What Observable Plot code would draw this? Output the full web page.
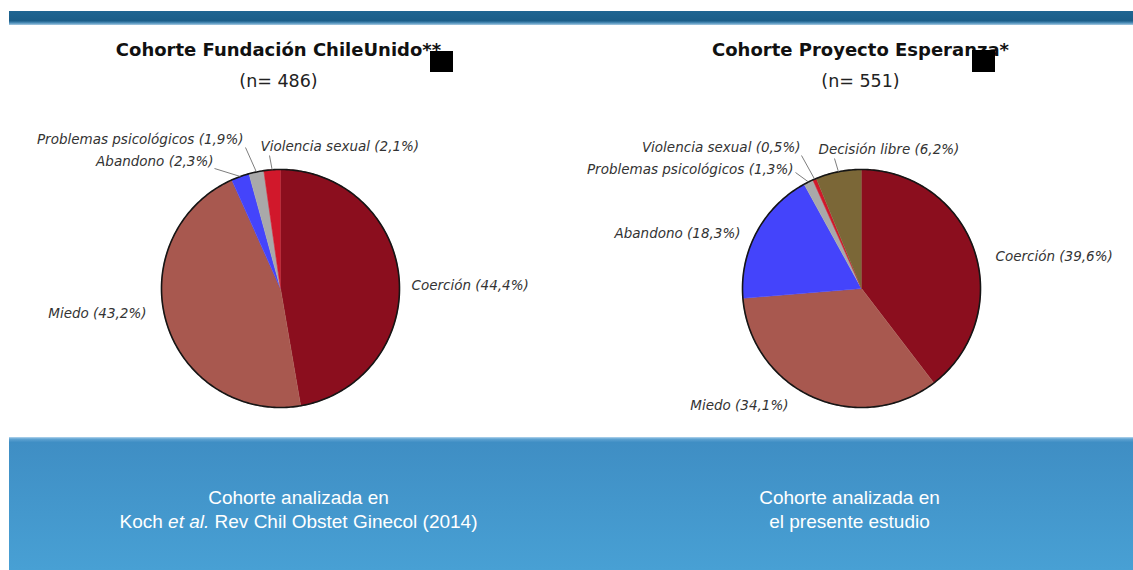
<!DOCTYPE html>
<html><head><meta charset="utf-8">
<script src="https://cdn.jsdelivr.net/npm/d3@7"></script>
<script src="https://cdn.jsdelivr.net/npm/@observablehq/plot@0.6"></script>
<style>html,body{margin:0;padding:0;background:#fff;}</style>
</head><body><div id="chart"></div>
<script>
// ---------- data ----------
const pieTitles = ["Cohorte Fundación ChileUnido**", "Cohorte Proyecto Esperanza*"];
const pieSizes = ["(n= 486)", "(n= 551)"];
const leftCategories = ["Coerción", "Miedo", "Abandono", "Problemas psicológicos", "Violencia sexual"];
const leftValues = [44.4, 43.2, 2.3, 1.9, 2.1];
const rightCategories = ["Coerción", "Miedo", "Abandono", "Problemas psicológicos", "Violencia sexual", "Decisión libre"];
const rightValues = [39.6, 34.1, 18.3, 1.3, 0.5, 6.2];
const categoryOrder = ["Coerción", "Miedo", "Abandono", "Problemas psicológicos", "Violencia sexual", "Decisión libre"];
const footnotes = ["Cohorte analizada en\nKoch et al. Rev Chil Obstet Ginecol (2014)", "Cohorte analizada en\nel presente estudio"];

// ---------- styles / layout ----------
const categoryColors = ["#8b0e1e", "#a8584f", "#4444fb", "#a9a9a9", "#d1182b", "#7b6737"];
const W = 1133, H = 570;
const pieLayout = [
  {cx: 280, cy: 288, r: 119, titleX: 278, square: [430, 453, 51, 72], footX: 298,
   labels: {
     "Coerción": {x: 411, y: 285, a: "start"},
     "Miedo": {x: 146, y: 313, a: "end"},
     "Abandono": {x: 213, y: 161, a: "end", lx: 214, ly: 168},
     "Problemas psicológicos": {x: 243, y: 139, a: "end", lx: 245, ly: 147},
     "Violencia sexual": {x: 260, y: 146, a: "start", lx: 269, ly: 155}
   }},
  {cx: 861, cy: 288, r: 119, titleX: 860, square: [972, 995, 50, 72], footX: 849,
   labels: {
     "Coerción": {x: 995, y: 256, a: "start"},
     "Miedo": {x: 788, y: 405, a: "end"},
     "Abandono": {x: 740, y: 233, a: "end"},
     "Problemas psicológicos": {x: 793, y: 169, a: "end", lx: 795, ly: 172},
     "Violencia sexual": {x: 800, y: 147, a: "end", lx: 801, ly: 155},
     "Decisión libre": {x: 818, y: 149, a: "start", lx: 834, ly: 158}
   }}
];
const pieData = [
  {cats: leftCategories, vals: leftValues},
  {cats: rightCategories, vals: rightValues}
];

// ---------- derive slice geometry ----------
const slicePts = [], outlinePts = [], labels = [], leaders = [];
pieData.forEach((pd, pi) => {
  const L = pieLayout[pi];
  const total = d3.sum(pd.vals);
  let acc = 0;
  pd.cats.forEach((cat, i) => {
    const a0 = acc / total * 2 * Math.PI;
    acc += pd.vals[i];
    const a1 = acc / total * 2 * Math.PI;
    const key = pi + "-" + cat;
    slicePts.push({key, cat, x: L.cx, y: L.cy});
    const n = Math.max(2, Math.ceil((a1 - a0) / (Math.PI / 180)));
    for (let k = 0; k <= n; k++) {
      const a = a0 + (a1 - a0) * k / n;
      slicePts.push({key, cat, x: L.cx + L.r * Math.sin(a), y: L.cy - L.r * Math.cos(a)});
    }
    const lb = L.labels[cat];
    labels.push({text: `${cat} (${pd.vals[i].toFixed(1).replace(".", ",")}%)`, x: lb.x, y: lb.y, a: lb.a});
    if (lb.lx != null) {
      const am = (a0 + a1) / 2;
      leaders.push({x1: lb.lx, y1: lb.ly, x2: L.cx + L.r * Math.sin(am), y2: L.cy - L.r * Math.cos(am)});
    }
  });
  for (let k = 0; k <= 360; k++) {
    const a = k * Math.PI / 180;
    outlinePts.push({pie: pi, x: L.cx + L.r * Math.sin(a), y: L.cy - L.r * Math.cos(a)});
  }
});
const titles = pieTitles.map((t, i) => ({text: t, x: pieLayout[i].titleX, y: 50}));
const sizes = pieSizes.map((t, i) => ({text: t, x: pieLayout[i].titleX, y: 81}));
const squares = pieLayout.map(L => ({x1: L.square[0], x2: L.square[1], y1: L.square[2], y2: L.square[3]}));
const foots = footnotes.map((t, i) => ({text: t, x: pieLayout[i].footX, y: 508}));
const bands = [
  {x1: 9, x2: W, y1: 11, y2: 25},
  {x1: 9, x2: W, y1: 437, y2: H}
];

const chart = Plot.plot({
  width: W, height: H, margin: 0,
  x: {domain: [0, W], range: [0, W], axis: null},
  y: {domain: [0, H], range: [0, H], axis: null},
  color: {domain: categoryOrder, range: categoryColors},
  style: {background: "#fff", fontFamily: "DejaVu Sans, sans-serif"},
  marks: [
    Plot.rect(bands.slice(0, 1), {x1: "x1", x2: "x2", y1: "y1", y2: "y2", fill: "url(#topGrad)"}),
    Plot.rect(bands.slice(1), {x1: "x1", x2: "x2", y1: "y1", y2: "y2", fill: "url(#bandGrad)"}),
    Plot.line(slicePts, {x: "x", y: "y", z: "key", fill: "cat", stroke: "cat", strokeWidth: 0.6}),
    Plot.line(outlinePts, {x: "x", y: "y", z: "pie", stroke: "#151515", strokeWidth: 1.6}),
    Plot.link(leaders, {x1: "x1", y1: "y1", x2: "x2", y2: "y2", stroke: "#6e6e6e", strokeWidth: 0.9}),
    Plot.text(labels.filter(d => d.a === "start"), {x: "x", y: "y", text: "text", textAnchor: "start", fontSize: 13.5, fontStyle: "italic", fill: "#333"}),
    Plot.text(labels.filter(d => d.a === "end"), {x: "x", y: "y", text: "text", textAnchor: "end", fontSize: 13.5, fontStyle: "italic", fill: "#333"}),
    Plot.text(titles, {x: "x", y: "y", text: "text", fontSize: 18, fontWeight: "bold", fill: "#111"}),
    Plot.text(sizes, {x: "x", y: "y", text: "text", fontSize: 17.5, fill: "#222"}),
    Plot.rect(squares, {x1: "x1", x2: "x2", y1: "y1", y2: "y2", fill: "#000"}),
    Plot.text(foots, {x: "x", y: "y", text: "text", fontSize: 19, lineHeight: 1.22, fill: "#fff", fontFamily: "Liberation Sans, Arial, sans-serif"})
  ]
});

// gradients
const defs = d3.select(chart).insert("defs", ":first-child");
const tg = defs.append("linearGradient").attr("id", "topGrad").attr("x1", 0).attr("y1", 0).attr("x2", 0).attr("y2", 1);
tg.append("stop").attr("offset", "0%").attr("stop-color", "#1f6592");
tg.append("stop").attr("offset", "70%").attr("stop-color", "#1b5d88");
tg.append("stop").attr("offset", "85%").attr("stop-color", "#4d8fba");
tg.append("stop").attr("offset", "100%").attr("stop-color", "#a9cbe2");
const bg = defs.append("linearGradient").attr("id", "bandGrad").attr("x1", 0).attr("y1", 0).attr("x2", 0).attr("y2", 1);
bg.append("stop").attr("offset", "0%").attr("stop-color", "#b7d7ee");
bg.append("stop").attr("offset", "1.5%").attr("stop-color", "#5fa3d2");
bg.append("stop").attr("offset", "4%").attr("stop-color", "#3f8ec4");
bg.append("stop").attr("offset", "100%").attr("stop-color", "#48a0d4");

// italic "et al."
d3.select(chart).selectAll("tspan").each(function() {
  const t = this.textContent;
  if (t.startsWith("Koch et al.")) {
    const s = d3.select(this);
    s.text(null);
    s.append("tspan").text("Koch ");
    s.append("tspan").attr("font-style", "italic").text("et al.");
    s.append("tspan").text(t.slice("Koch et al.".length));
  }
});

document.getElementById("chart").appendChild(chart);
</script>
</body></html>
